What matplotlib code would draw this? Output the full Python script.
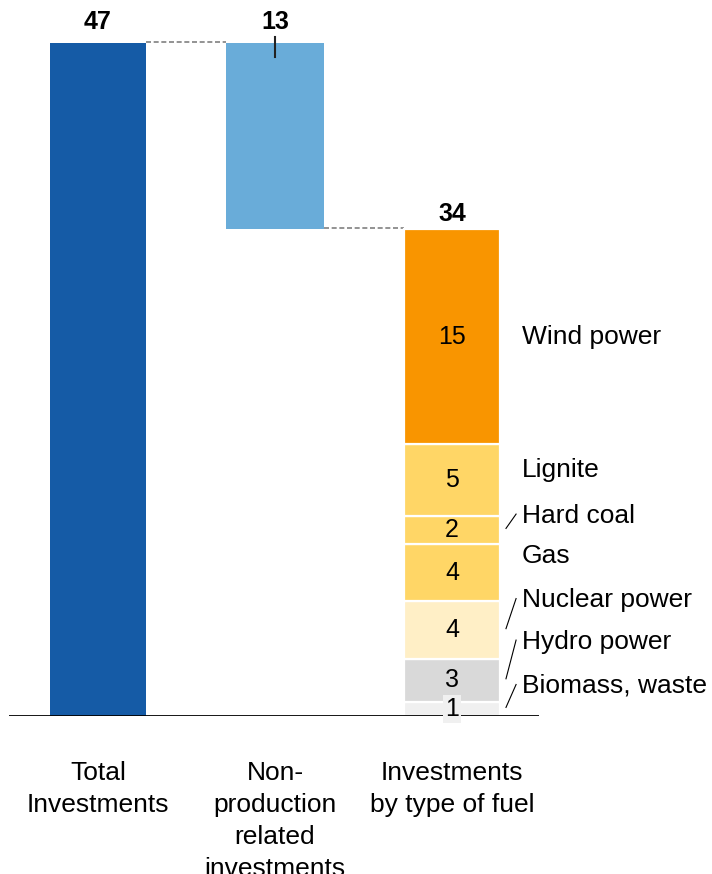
import matplotlib
matplotlib.use("Agg")
import matplotlib.pyplot as plt

plt.rcParams['font.family'] = ['Liberation Sans', 'DejaVu Sans']

# ---- data ----
categories = ["Total\nInvestments", "Non-\nproduction\nrelated\ninvestments", "Investments\nby type of fuel"]
total_value = 47
nonprod_value = 13
fuel_names = ["Biomass, waste", "Hydro power", "Nuclear power", "Gas", "Hard coal", "Lignite", "Wind power"]
fuel_values = [1, 3, 4, 4, 2, 5, 15]

# ---- style ----
c_total = "#155BA6"
c_nonprod = "#69ACD9"
fuel_colors = ["#F0F0F0", "#D9D9D9", "#FFEFC6", "#FFD666", "#FFD666", "#FFD666", "#F99500"]
label_y = [2.1, 5.2, 8.1, 11.2, 14.0, 17.2, 26.5]   # layout of side labels
leader = [True, True, True, False, True, False, False]

fig = plt.figure(figsize=(7.12, 8.74), dpi=100)
ax = fig.add_axes([9/712, 158/874, 530/712, 716/874])
ax.set_xlim(-0.5028, 2.4915)
ax.set_ylim(0, 50)
ax.axis("off")

w = 0.542
fuel_total = sum(fuel_values)

# bars
ax.bar(0, total_value, width=w, color=c_total, zorder=2)
ax.bar(1, nonprod_value, bottom=total_value - nonprod_value, width=w + 0.01, color=c_nonprod, zorder=2)
bottom = 0
centers = []
for v, c in zip(fuel_values, fuel_colors):
    ax.bar(2, v, bottom=bottom, width=w, color=c, edgecolor="white", linewidth=1.6, zorder=2)
    centers.append(bottom + v / 2)
    bottom += v

# baseline
ax.axhline(0, color="black", lw=2, zorder=4)

# connectors
ax.plot([0 + w/2, 1 - w/2 - 0.005], [total_value + 0.07] * 2, color="#808080", lw=1.2,
        ls=(0, (3, 1.6)), zorder=1)
ax.plot([1 + w/2 + 0.005, 2 - w/2], [total_value - nonprod_value + 0.07] * 2, color="#808080", lw=1.2,
        ls=(0, (3, 1.6)), zorder=1)
# tick mark on the 13 bar
ax.plot([1, 1], [total_value - 1.0, total_value + 0.45], color="#222222", lw=1.5, zorder=3)

# value labels
fs_num = 18
ax.text(0, total_value + 0.95, str(total_value), ha="center", va="baseline", fontsize=fs_num, fontweight="bold")
ax.text(1, total_value + 0.95, str(nonprod_value), ha="center", va="baseline", fontsize=fs_num, fontweight="bold")
ax.text(2, fuel_total + 0.6, str(fuel_total), ha="center", va="baseline", fontsize=fs_num, fontweight="bold")

# segment labels and side labels
for i, (name, v, cy, ly) in enumerate(zip(fuel_names, fuel_values, centers, label_y)):
    if i == 0:
        ax.text(2, cy, str(v), ha="center", va="center", fontsize=fs_num, zorder=6,
                bbox=dict(facecolor=fuel_colors[0], edgecolor="none", pad=1.5))
    else:
        ax.text(2, cy, str(v), ha="center", va="center", fontsize=fs_num, zorder=6)
    ax.text(2.395, ly, name, ha="left", va="center", fontsize=19)
    if leader[i]:
        ax.plot([2.305, 2.362], [cy + 0.1, ly + 0.1], color="black", lw=0.8)

# category labels
for i, lab in enumerate(categories):
    ax.text(i, -0.063, lab, ha="center", va="top", fontsize=19, linespacing=1.42,
            transform=ax.get_xaxis_transform())

fig.savefig("out.png", dpi=100)
